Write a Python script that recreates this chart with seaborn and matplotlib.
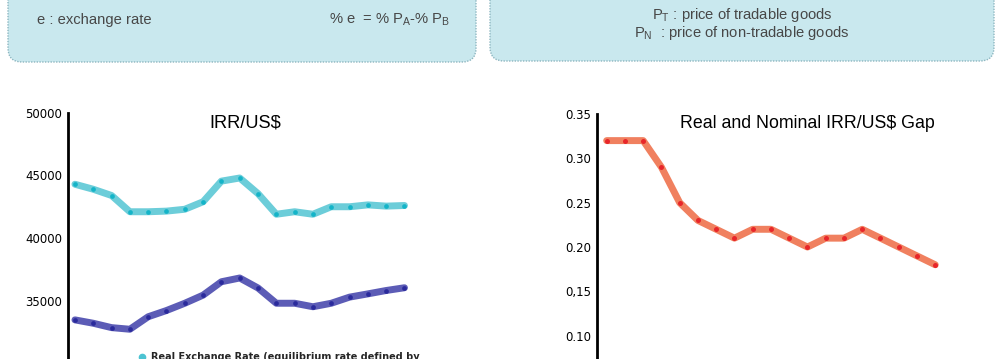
import matplotlib
matplotlib.use('Agg')
import matplotlib.pyplot as plt
from matplotlib import font_manager
from matplotlib.patches import FancyBboxPatch
from matplotlib.lines import Line2D
import seaborn as sns

# data (19 periods)
periods = list(range(19))
real_rate = [44300, 43900, 43400, 42100, 42100, 42150, 42300, 42900, 44550, 44800,
             43550, 41900, 42100, 41900, 42500, 42500, 42650, 42550, 42600]
nominal_rate = [33450, 33180, 32830, 32700, 33700, 34200, 34780, 35430, 36500, 36800,
                36000, 34780, 34780, 34500, 34780, 35270, 35530, 35800, 36020]
gap = [0.32, 0.32, 0.32, 0.29, 0.25, 0.23, 0.22, 0.21, 0.22, 0.22,
       0.21, 0.20, 0.21, 0.21, 0.22, 0.21, 0.20, 0.19, 0.18]

left_ticks = [25000, 30000, 35000, 40000, 45000, 50000]
right_ticks = [0.05, 0.10, 0.15, 0.20, 0.25, 0.30, 0.35]
right_tick_labels = ['0.05', '0.10', '0,15', '0.20', '0.25', '0.30', '0.35']
legend_labels = ['Real Exchange Rate (equilibrium rate defined by',
                 'Nominal Exchange Rate']

W, H = 1000, 359

sns.set_theme(style='white')
available = {f.name for f in font_manager.fontManager.ttflist}
if 'Liberation Sans Narrow' in available:
    NARROW, scale = 'Liberation Sans Narrow', 1.0
else:
    NARROW, scale = 'Liberation Sans', 0.82
plt.rcParams['font.family'] = ['DejaVu Sans']
plt.rcParams['mathtext.fontset'] = 'custom'
plt.rcParams['mathtext.rm'] = NARROW


def px_axes(fig, x0, y0, x1, y1, **kw):
    """Add axes given pixel box (top-left origin)."""
    return fig.add_axes([x0 / W, 1 - y1 / H, (x1 - x0) / W, (y1 - y0) / H], **kw)


fig = plt.figure(figsize=(W / 100, H / 100), dpi=100)

# background: info boxes from the slide
bg = px_axes(fig, 0, 0, W, H, zorder=0)
bg.set_xlim(0, W)
bg.set_ylim(H, 0)
bg.axis('off')
for x0, x1, y1 in [(8, 476, 62), (490, 994, 61)]:
    bg.add_patch(FancyBboxPatch((x0, -40), x1 - x0, y1 + 40,
                                boxstyle='round,pad=0,rounding_size=14',
                                fc='#c9e8ee', ec='#8db6c0', lw=1.0, ls=(0, (1, 1))))
box_txt = dict(family=NARROW, fontsize=13 * scale, color='#474747', va='center')
bg.text(37, 20, 'e : exchange rate', ha='left', **box_txt)
bg.text(450, 20, r'% e  = % P$_\mathrm{A}$-% P$_\mathrm{B}$', ha='right', **box_txt)
bg.text(742, 15, r'P$_\mathrm{T}$ : price of tradable goods', ha='center', **box_txt)
bg.text(742, 33, r'P$_\mathrm{N}$  : price of non-tradable goods', ha='center', **box_txt)

# left chart: IRR/US$
ax1 = px_axes(fig, 68, 113, 470, 425.5)
sns.lineplot(x=periods, y=real_rate, ax=ax1, color='#6ccdd9', linewidth=5,
             marker='o', markersize=3.4, markerfacecolor='#14b4c8', markeredgewidth=0)
sns.lineplot(x=periods, y=nominal_rate, ax=ax1, color='#5c5cb6', linewidth=5,
             marker='o', markersize=3.4, markerfacecolor='#2a2a9c', markeredgewidth=0)
ax1.set_ylim(25000, 50000)
ax1.set_xlim(-0.38, 21.58)
ax1.set_yticks(left_ticks)
ax1.set_yticklabels([str(t) for t in left_ticks])
ax1.text(0.44, 0.968, 'IRR/US$', transform=ax1.transAxes, ha='center', va='center',
         family=NARROW, fontsize=16 * scale, color='black')
handles = [Line2D([], [], ls='none', marker='o', markersize=4.5, color='#4cc3d2'),
           Line2D([], [], ls='none', marker='o', markersize=4.5, color='#3a3aa6')]
ax1.legend(handles, legend_labels,
           loc='upper left', bbox_to_anchor=((138 - 68) / 402, 1 - (352 - 113) / 312.5),
           frameon=False, handlelength=0.8, handletextpad=0.5, borderpad=0,
           borderaxespad=0, prop=dict(family='DejaVu Sans', weight='bold', size=7))

# right chart: gap
ax2 = px_axes(fig, 597, 114, 990, 424.4)
sns.lineplot(x=periods, y=gap, ax=ax2, color='#f0805f', linewidth=5,
             marker='o', markersize=3.6, markerfacecolor='#e8262a', markeredgewidth=0)
ax2.set_ylim(0, 0.35)
ax2.set_xlim(-0.53, 21.0)
ax2.set_yticks(right_ticks)
ax2.set_yticklabels(right_tick_labels)
ax2.text(0.536, 0.971, 'Real and Nominal IRR/US$ Gap', transform=ax2.transAxes,
         ha='center', va='center', family=NARROW, fontsize=15.6 * scale, color='black')

for ax in (ax1, ax2):
    ax.set_facecolor('none')
    ax.set_xticks([])
    ax.set_xlabel('')
    ax.set_ylabel('')
    for side in ('top', 'right', 'bottom'):
        ax.spines[side].set_visible(False)
    ax.spines['left'].set_color('black')
    ax.spines['left'].set_linewidth(2.0)
    ax.tick_params(axis='y', length=0, pad=4, labelsize=8.5, labelcolor='black')

fig.savefig('out.png', dpi=100)
